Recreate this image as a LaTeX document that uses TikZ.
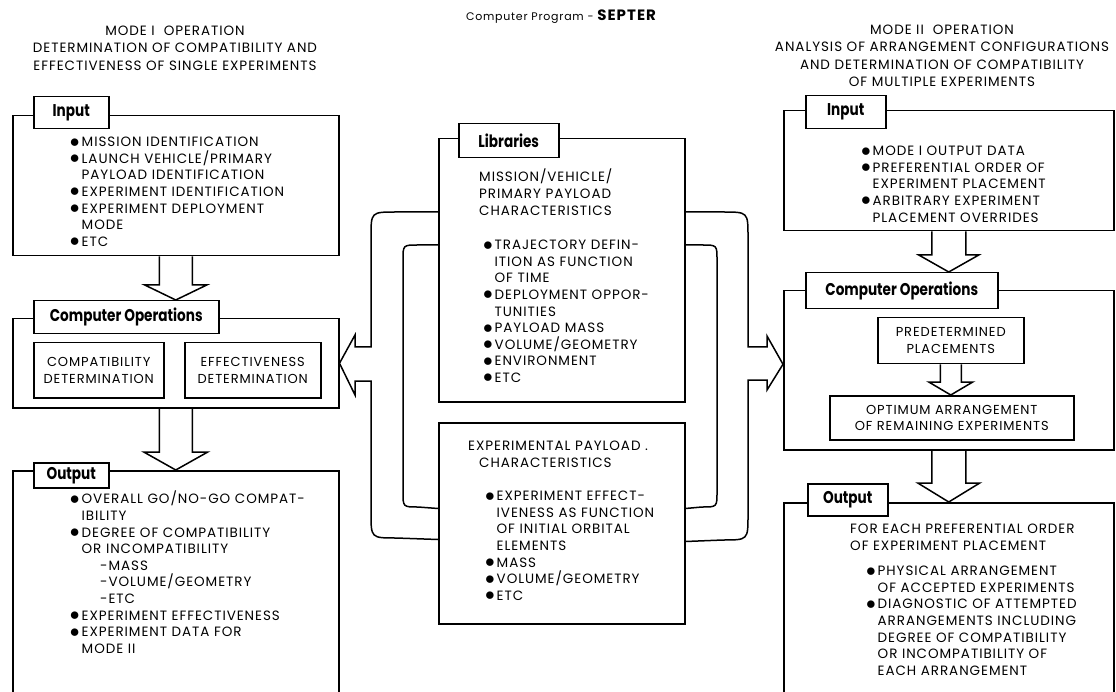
\documentclass[tikz,border=0pt]{standalone}
\usepackage{fontspec}
\setmainfont{Poppins}[LetterSpace=7]
\newfontfamily\tabfont{Poppins}
\usetikzlibrary{calc}

\newcommand{\bl}{\makebox[10.5pt][l]{\hspace*{-1.2pt}\raisebox{-0.3pt}{\scalebox{1.35}{$\bullet$}}}}
\newcommand{\ind}{\hspace*{10.5pt}}
\newcommand{\tabtext}[1]{\scalebox{0.8}[1]{#1}}
% wide open arrow from the bottom of one box to the top of another
\newcommand{\fatarrow}[5]{%
	\coordinate (tip) at (#1.south |- #2.north);
	\draw[fat] ([xshift=-#3pt]#1.south) -- ([xshift=-#3pt, yshift=#5pt]tip) -- ([xshift=-#4pt, yshift=#5pt]tip) -- (tip)
		-- ([xshift=#4pt, yshift=#5pt]tip) -- ([xshift=#3pt, yshift=#5pt]tip) -- ([xshift=#3pt]#1.south);}

\begin{document}
\begin{tikzpicture}[x=1pt, y=-1pt,
	box/.style={draw, line width=1.5pt, inner sep=0pt, anchor=north west},
	tab/.style={box, fill=white, font=\tabfont\fontsize{17}{17}\selectfont\bfseries},
	txt/.style={inner sep=0pt, anchor=north west, align=left, font=\fontsize{13.5}{16.6}\selectfont},
	ttl/.style={inner sep=0pt, anchor=north, align=center, font=\fontsize{13.5}{17.2}\selectfont},
	inbox/.style={box, align=center, font=\fontsize{13}{16.5}\selectfont},
	fat/.style={line width=1.5pt, line join=miter},
	band/.style={line width=1.5pt},
	]
	\fill[white] (0,0) rectangle (1116,692);
	\useasboundingbox (0,0) rectangle (1116,692);
	
	%Titles
	\node[ttl] (titleL) at (175,26) {MODE I\ \ OPERATION\\DETERMINATION OF COMPATIBILITY AND\\EFFECTIVENESS OF SINGLE EXPERIMENTS};
	\node[ttl] (titleR) at (942,25) {MODE II\ \ OPERATION\\ANALYSIS OF ARRANGEMENT CONFIGURATIONS\\AND DETERMINATION OF COMPATIBILITY\\OF MULTIPLE EXPERIMENTS};
	\node[inner sep=0pt] (prog) at (561,17) {\fontsize{11}{12}\selectfont Computer Program - {\fontsize{15}{15}\selectfont\bfseries SEPTER}};
	
	%Mode I
	\node[box, minimum width=326pt, minimum height=140pt] (inL) at (12,115) {};
	\node[tab, minimum width=75pt, minimum height=32pt] (inLtab) at (33,96) {\tabtext{Input}};
	\node[txt] (inLtxt) at (71,137) {\bl MISSION IDENTIFICATION\\
		\bl LAUNCH VEHICLE/PRIMARY\\
		\ind PAYLOAD IDENTIFICATION\\
		\bl EXPERIMENT IDENTIFICATION\\
		\bl EXPERIMENT DEPLOYMENT\\
		\ind MODE\\
		\bl ETC};
	
	\node[box, minimum width=326pt, minimum height=89pt] (opsL) at (12,318) {};
	\node[tab, minimum width=185pt, minimum height=33pt] (opsLtab) at (33,300) {\tabtext{Computer Operations}};
	\node[inbox, minimum width=130pt, minimum height=55pt] (compat) at (33,342) {COMPATIBILITY\\DETERMINATION};
	\node[inbox, minimum width=136pt, minimum height=55pt] (effect) at (184,342) {EFFECTIVENESS\\DETERMINATION};
	
	\node[box, minimum width=326pt, minimum height=240pt] (outL) at (12,470) {};
	\node[tab, minimum width=75pt, minimum height=25pt] (outLtab) at (33,462) {\tabtext{Output}};
	\node[txt] (outLtxt) at (71,491) {\bl OVERALL GO/NO-GO COMPAT-\\
		\ind IBILITY\\
		\bl DEGREE OF COMPATIBILITY\\
		\ind OR INCOMPATIBILITY\\
		\hspace*{29pt}-MASS\\
		\hspace*{29pt}-VOLUME/GEOMETRY\\
		\hspace*{29pt}-ETC\\
		\bl EXPERIMENT EFFECTIVENESS\\
		\bl EXPERIMENT DATA FOR\\
		\ind MODE II};
	
	%Libraries
	\node[box, minimum width=246pt, minimum height=263pt] (libtop) at (438,138) {};
	\node[tab, minimum width=100pt, minimum height=34pt] (libtab) at (458,123) {\tabtext{Libraries}};
	\node[txt] (libtophead) at (479,169) {MISSION/VEHICLE/\\PRIMARY PAYLOAD\\CHARACTERISTICS};
	\node[txt] (libtoptxt) at (484,240) {\bl TRAJECTORY DEFIN-\\
		\ind ITION AS FUNCTION\\
		\ind OF TIME\\
		\bl DEPLOYMENT OPPOR-\\
		\ind TUNITIES\\
		\bl PAYLOAD MASS\\
		\bl VOLUME/GEOMETRY\\
		\bl ENVIRONMENT\\
		\bl ETC};
	
	\node[box, minimum width=246pt, minimum height=201pt] (libbot) at (438,422) {};
	\node[txt] (libbothead) at (468,441) {EXPERIMENTAL PAYLOAD .\\\hspace*{11pt}CHARACTERISTICS};
	\node[txt] (libbottxt) at (486,491) {\bl EXPERIMENT EFFECT-\\
		\ind IVENESS AS FUNCTION\\
		\ind OF INITIAL ORBITAL\\
		\ind ELEMENTS\\
		\bl MASS\\
		\bl VOLUME/GEOMETRY\\
		\bl ETC};
	
	%Mode II
	\node[box, minimum width=330pt, minimum height=120pt] (inR) at (783,110) {};
	\node[tab, minimum width=80pt, minimum height=33pt] (inRtab) at (805,95) {\tabtext{Input}};
	\node[txt] (inRtxt) at (862,146) {\bl MODE I OUTPUT DATA\\
		\bl PREFERENTIAL ORDER OF\\
		\ind EXPERIMENT PLACEMENT\\
		\bl ARBITRARY EXPERIMENT\\
		\ind PLACEMENT OVERRIDES};
	
	\node[box, minimum width=330pt, minimum height=159pt] (opsR) at (783,290) {};
	\node[tab, minimum width=192pt, minimum height=36pt] (opsRtab) at (805,272) {\tabtext{Computer Operations}};
	\node[inbox, minimum width=146pt, minimum height=46pt] (predet) at (877,317) {PREDETERMINED\\PLACEMENTS};
	\node[inbox, minimum width=244pt, minimum height=44pt] (optim) at (829,395) {OPTIMUM ARRANGEMENT\\OF REMAINING EXPERIMENTS};
	
	\node[box, minimum width=330pt, minimum height=200pt] (outR) at (783,502) {};
	\node[tab, minimum width=80pt, minimum height=32pt] (outRtab) at (807,483) {\tabtext{Output}};
	\node[txt] (outRhead) at (850,524) {FOR EACH PREFERENTIAL ORDER\\OF EXPERIMENT PLACEMENT};
	\node[txt] (outRtxt) at (867,566) {\bl PHYSICAL ARRANGEMENT\\
		\ind OF ACCEPTED EXPERIMENTS\\
		\bl DIAGNOSTIC OF ATTEMPTED\\
		\ind ARRANGEMENTS INCLUDING\\
		\ind DEGREE OF COMPATIBILITY\\
		\ind OR INCOMPATIBILITY OF\\
		\ind EACH ARRANGEMENT};
	
	%Arrows
	\fatarrow{inL}{opsLtab}{16.5}{31}{15}
	\fatarrow{opsL}{outL}{16.5}{32}{18}
	\fatarrow{inR}{opsRtab}{17}{30}{17}
	\fatarrow{predet}{optim}{10.5}{22}{13}
	\fatarrow{opsR}{outR}{17}{31}{19}
	
	%Lines from the libraries
	\draw[band] ([yshift=-74pt]libtop.north west) -- (396,212) .. controls (371,212) .. (371,237) -- (371,347)
		-- (355,347) -- (355,335) -- (opsL.east) -- (355,395) -- (355,381) -- (371,381)
		-- (371,513) .. controls (371,538) .. (396,538) -- ([yshift=85pt]libbot.south west);
	\draw[band] ([yshift=-107pt]libtop.north west) -- (418,245) .. controls (403,245) .. (403,260)
		-- (403,492) .. controls (403,507) .. (418,507) -- ([yshift=116pt]libbot.south west);
	\draw[band] ([yshift=-74pt]libtop.north east) -- (723,212) .. controls (748,212) .. (748,237) -- (748,347)
		-- (767,347) -- (767,336) -- ([yshift=6pt]opsR.west) -- (767,390) -- (767,380) -- (748,380)
		-- (748,515) .. controls (748,540) .. (723,540) -- ([yshift=83pt]libbot.south east);
	\draw[band] ([yshift=-107pt]libtop.north east) -- (702,245) .. controls (717,245) .. (717,260)
		-- (717,492) .. controls (717,507) .. (702,507) -- ([yshift=116pt]libbot.south east);
	
\end{tikzpicture}
\end{document}
